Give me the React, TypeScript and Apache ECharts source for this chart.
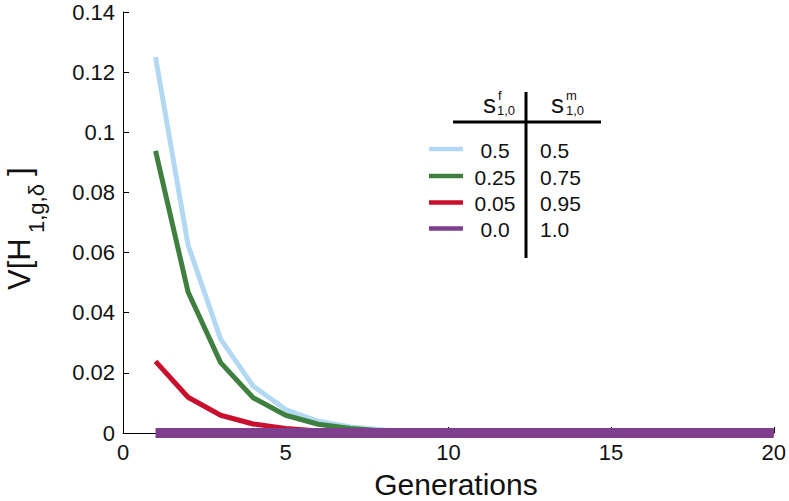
import React, { useEffect, useRef } from "react";
import * as echarts from "echarts";

const generations = [1, 2, 3, 4, 5, 6, 7, 8, 9, 10, 11, 12, 13, 14, 15, 16, 17, 18, 19, 20];
const lightBlueValues = [0.125, 0.0625, 0.0312, 0.0156, 0.0078, 0.0039, 0.002, 0.001, 0.0005, 0.0002, 0.0001, 0.0001, 0, 0, 0, 0, 0, 0, 0, 0];
const greenValues = [0.0938, 0.0469, 0.0234, 0.0117, 0.0059, 0.0029, 0.0015, 0.0007, 0.0004, 0.0002, 0.0001, 0, 0, 0, 0, 0, 0, 0, 0, 0];
const redValues = [0.0238, 0.0119, 0.0059, 0.003, 0.0015, 0.0007, 0.0004, 0.0002, 0.0001, 0, 0, 0, 0, 0, 0, 0, 0, 0, 0, 0];
const purpleValues = [0, 0, 0, 0, 0, 0, 0, 0, 0, 0, 0, 0, 0, 0, 0, 0, 0, 0, 0, 0];

const sfLabels = ["0.5", "0.25", "0.05", "0.0"];
const smLabels = ["0.5", "0.75", "0.95", "1.0"];
const seriesColors = ["#b3d9f2", "#3f7f3f", "#c8102e", "#7d3f8e"];

const FONT = "'Liberation Sans', Arial, Helvetica, sans-serif";

export default function App() {
  const ref = useRef<HTMLDivElement>(null);
  useEffect(() => {
    if (!ref.current) return;
    const chart = echarts.init(ref.current, undefined, { renderer: "svg" });
    const allValues = [lightBlueValues, greenValues, redValues, purpleValues];
    const widths = [5, 5, 5, 10];
    const series = allValues.map((vals, i) => ({
      type: "line",
      data: generations.map((g, j) => [g, vals[j]]),
      showSymbol: false,
      symbol: "none",
      clip: false,
      lineStyle: { color: seriesColors[i], width: widths[i], cap: "butt" },
      z: 2 + i,
    }));

    const rowY = [149, 176, 202.5, 228.5];
    const legendEls: any[] = [];
    rowY.forEach((y, i) => {
      legendEls.push({
        type: "line",
        shape: { x1: 429, y1: y, x2: 463, y2: y },
        style: { stroke: seriesColors[i], lineWidth: 4.5 },
      });
      legendEls.push({
        type: "text",
        x: 495,
        y: y + 1,
        style: { text: sfLabels[i], font: `21px ${FONT}`, fill: "#111", align: "center", verticalAlign: "middle" },
      });
      legendEls.push({
        type: "text",
        x: 540,
        y: y + 1,
        style: { text: smLabels[i], font: `21px ${FONT}`, fill: "#111", align: "left", verticalAlign: "middle" },
      });
    });

    const headerEls: any[] = [
      { type: "text", x: 483, y: 104, style: { text: "s", font: `26px ${FONT}`, fill: "#111", align: "left", verticalAlign: "middle" } },
      { type: "text", x: 498, y: 95, style: { text: "f", font: `13px ${FONT}`, fill: "#111", align: "left", verticalAlign: "middle" } },
      { type: "text", x: 497, y: 110, style: { text: "1,0", font: `13px ${FONT}`, fill: "#111", align: "left", verticalAlign: "middle" } },
      { type: "text", x: 551, y: 104, style: { text: "s", font: `26px ${FONT}`, fill: "#111", align: "left", verticalAlign: "middle" } },
      { type: "text", x: 566, y: 95, style: { text: "m", font: `13px ${FONT}`, fill: "#111", align: "left", verticalAlign: "middle" } },
      { type: "text", x: 566, y: 110, style: { text: "1,0", font: `13px ${FONT}`, fill: "#111", align: "left", verticalAlign: "middle" } },
      { type: "line", shape: { x1: 526, y1: 92, x2: 526, y2: 258 }, style: { stroke: "#000", lineWidth: 3 } },
      { type: "line", shape: { x1: 453, y1: 122, x2: 601, y2: 122 }, style: { stroke: "#000", lineWidth: 3 } },
    ];

    const titleEls: any[] = [
      { type: "text", x: 19, y: 290, rotation: Math.PI / 2, style: { text: "V[H", font: `31px ${FONT}`, lineHeight: 28, fill: "#111", align: "left", verticalAlign: "middle" } },
      { type: "text", x: 36, y: 233, rotation: Math.PI / 2, style: { text: "1,g,δ", font: `22px ${FONT}`, lineHeight: 22, fill: "#111", align: "left", verticalAlign: "middle" } },
      { type: "text", x: 19, y: 176, rotation: Math.PI / 2, style: { text: "]", font: `31px ${FONT}`, lineHeight: 28, fill: "#111", align: "left", verticalAlign: "middle" } },
      { type: "text", x: 456, y: 484, style: { text: "Generations", font: `30px ${FONT}`, fill: "#111", align: "center", verticalAlign: "middle" } },
    ];

    chart.setOption({
      animation: false,
      backgroundColor: "#fff",
      grid: { left: 123, right: 15, top: 12, bottom: 68, containLabel: false },
      xAxis: {
        type: "value",
        min: 0,
        max: 20,
        interval: 5,
        axisLine: { show: true, lineStyle: { color: "#000", width: 1 } },
        axisTick: { show: true, inside: true, length: 6, lineStyle: { color: "#000" } },
        axisLabel: { color: "#111", fontSize: 22, fontFamily: FONT, margin: 8 },
        splitLine: { show: false },
      },
      yAxis: {
        type: "value",
        min: 0,
        max: 0.14,
        interval: 0.02,
        axisLine: { show: true, lineStyle: { color: "#000", width: 1 } },
        axisTick: { show: true, inside: true, length: 6, lineStyle: { color: "#000" } },
        axisLabel: {
          color: "#111",
          fontSize: 22,
          fontFamily: FONT,
          margin: 8,
          formatter: (v: number) => String(+v.toFixed(2)),
        },
        splitLine: { show: false },
      },
      series,
      graphic: [...legendEls, ...headerEls, ...titleEls],
    });
    return () => chart.dispose();
  }, []);
  return (
    <div
      ref={ref}
      style={{ position: "fixed", left: 0, top: 0, width: 789, height: 501, background: "#fff" }}
    />
  );
}
